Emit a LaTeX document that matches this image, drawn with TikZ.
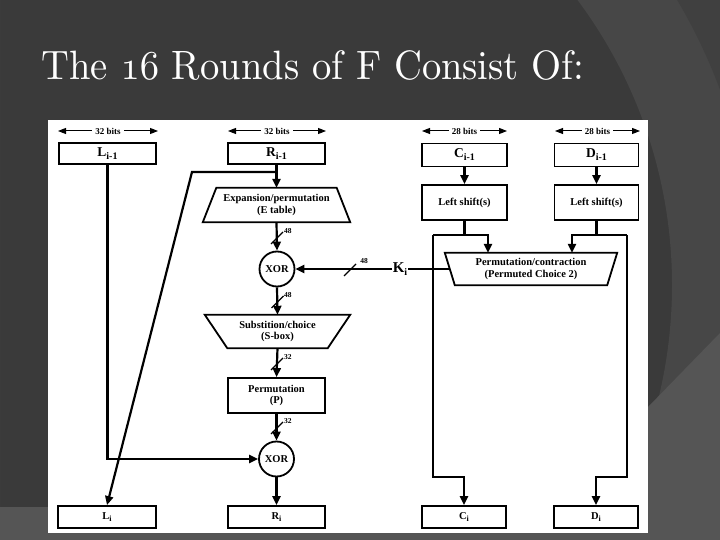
\documentclass[tikz,border=0pt]{standalone}
\usepackage{fontspec}
\newfontfamily\dfont{Liberation Serif}
\usetikzlibrary{arrows.meta,calc}
\definecolor{bgd}{HTML}{3A3A3A}
\definecolor{ring}{HTML}{474747}
\definecolor{corner}{HTML}{404040}
\definecolor{low}{HTML}{555555}
\newcommand\sbs[1]{\raisebox{-3pt}{\fontsize{10}{10}\selectfont #1}}
\newcommand\sbsm[1]{\raisebox{-2.5pt}{\fontsize{8}{8}\selectfont #1}}
\newcommand\slashat[1]{\draw[line width=1.4pt] ($(#1)+(-6,6)$) -- ($(#1)+(6,-6)$);}
\begin{document}
\begin{tikzpicture}[x=1pt,y=-1pt,
  ln/.style={line width=2.2pt},
  arr/.style={-{Triangle[length=9pt,width=8pt]}},
  dim/.style={line width=1pt,{Triangle[length=8pt,width=6pt]}-{Triangle[length=8pt,width=6pt]}},
  box/.style={draw, line width=1.8pt, fill=white, inner sep=0pt, align=center,
    font=\dfont\bfseries\fontsize{10.5}{11.5}\selectfont},
  big/.style={font=\dfont\bfseries\fontsize{13.5}{14}\selectfont},
  small/.style={font=\dfont\bfseries\fontsize{10.5}{11}\selectfont},
  ghost/.style={inner sep=0pt, align=center, font=\dfont\bfseries\fontsize{10.5}{11.5}\selectfont},
  xor/.style={draw, circle, line width=1.8pt, minimum size=35pt, inner sep=0pt, fill=white,
    font=\dfont\bfseries\fontsize{10.5}{11}\selectfont},
  num/.style={inner sep=0pt, font=\dfont\bfseries\fontsize{7.5}{8}\selectfont},
  bits/.style={fill=white, inner xsep=3pt, inner ysep=1pt, font=\dfont\bfseries\fontsize{9}{9}\selectfont}]
\useasboundingbox (0,0) rectangle (720,540);
% background
\fill[bgd] (0,0) rectangle (720,540);
\fill[ring, even odd rule] (0,0) rectangle (720,540) (195,285) circle (477pt);
\fill[corner, even odd rule] (0,0) rectangle (720,540) (195,285) circle (560pt);
\fill[low] (0,507) -- (60,507) -- (648,407) -- (720,333) -- (720,540) -- (0,540) -- cycle;
\node[anchor=base west, text=white, inner sep=0pt] (title) at (41,80)
  {\scalebox{3.86}[4.1]{\fontsize{10}{12}\selectfont The {\usefont{OML}{cmm}{m}{it}16} Rounds of F Consist Of:}};
% panel
\fill[white] (48,120) rectangle (648,533);

% width arrows
\coordinate (wl1) at (58,131);  \coordinate (wl2) at (158,131);
\coordinate (wr1) at (228,131); \coordinate (wr2) at (326,131);
\coordinate (wc1) at (422,131); \coordinate (wc2) at (507,131);
\coordinate (wd1) at (555,131); \coordinate (wd2) at (640,131);
\draw[dim] (wl1) -- (wl2) node[bits, midway] (bl) {32 bits};
\draw[dim] (wr1) -- (wr2) node[bits, midway] (br) {32 bits};
\draw[dim] (wc1) -- (wc2) node[bits, midway] (bc) {28 bits};
\draw[dim] (wd1) -- (wd2) node[bits, midway] (bd) {28 bits};

% top boxes
\node[box, big, minimum width=97pt, minimum height=21pt] (Li1) at (107.5,153.5) {L\sbs{i-1}};
\node[box, big, minimum width=97pt, minimum height=21pt] (Ri1) at (276.5,153.5) {R\sbs{i-1}};
\node[box, big, minimum width=85pt, minimum height=23pt] (Ci1) at (464.5,155) {C\sbs{i-1}};
\node[box, big, minimum width=84pt, minimum height=23pt] (Di1) at (596.5,155) {D\sbs{i-1}};
\node[box, minimum width=85pt, minimum height=35pt] (LSC) at (464.5,202.5) {Left shift(s)};
\node[box, minimum width=84pt, minimum height=35pt] (LSD) at (596.5,202.5) {Left shift(s)};

% trapezoids
\node[ghost, minimum width=147pt, minimum height=34pt] (E) at (276.5,205) {};
\filldraw[fill=white, line width=1.8pt] ($(E.north west)+(13.5,0)$) -- ($(E.north east)+(-13.5,0)$)
  -- (E.south east) -- (E.south west) -- cycle;
\node[ghost] at (E) {Expansion/permutation\\(E table)};

\node[ghost, minimum width=145pt, minimum height=33pt] (S) at (277.5,331.5) {};
\filldraw[fill=white, line width=1.8pt] (S.north west) -- (S.north east)
  -- ($(S.south east)+(-22.5,0)$) -- ($(S.south west)+(22.5,0)$) -- cycle;
\node[ghost] at (S) {Substition/choice\\(S-box)};

\node[ghost, minimum width=172pt, minimum height=32pt] (PC) at (531,269) {};
\filldraw[fill=white, line width=1.8pt] (PC.north west) -- (PC.north east)
  -- ($(PC.south east)+(-10,0)$) -- ($(PC.south west)+(10,0)$) -- cycle;
\node[ghost] at (PC) {Permutation/contraction\\(Permuted Choice 2)};

\node[box, minimum width=97pt, minimum height=35pt] (P) at (276.5,395.5) {Permutation\\(P)};

\node[xor] (X1) at (277,269) {XOR};
\node[xor] (X2) at (276.5,459) {XOR};
\node[inner sep=1pt, font=\dfont\bfseries\fontsize{15}{16}\selectfont] (Ki) at (400,269) {K\sbs{i}};

% bottom boxes
\node[box, small, minimum width=98pt, minimum height=22pt] (Li) at (107,517) {L\sbsm{i}};
\node[box, small, minimum width=97pt, minimum height=22pt] (Ri) at (276.5,517) {R\sbsm{i}};
\node[box, small, minimum width=84pt, minimum height=22pt] (Ci) at (464,517) {C\sbsm{i}};
\node[box, small, minimum width=84pt, minimum height=22pt] (Di) at (596,517) {D\sbsm{i}};

% right-half connectors
\draw[ln, arr] (Ri1.south) -- (E.north);
\coordinate (brR) at (276.5,172);
\coordinate (brL) at (192,172);
\draw[ln, arr] (brR) -- (brL) -- (Li.north);
\draw[ln, arr] (E.south) -- (X1.north);
\slashat{277,238}
\node[num, anchor=west] (n1) at (284,231) {48};
\draw[ln, arr] (Ki.west) -- (X1.east);
\slashat{350,270}
\node[num] (n2) at (364,261) {48};
\draw[ln] (Ki.east) -- ($(PC.west)+(5,0)$);
\draw[ln, arr] (X1.south) -- (S.north);
\slashat{277.5,302}
\node[num, anchor=west] (n3) at (284,295) {48};
\draw[ln, arr] (S.south) -- (P.north);
\slashat{277,364}
\node[num, anchor=west] (n4) at (284,357) {32};
\draw[ln, arr] (P.south) -- (X2.north);
\slashat{277,428}
\node[num, anchor=west] (n5) at (284,421) {32};
\draw[ln, arr] (X2.south) -- (Ri.north);
\draw[ln, arr] (Li1.south) |- (X2.west);

% key schedule connectors
\draw[ln, arr] (Ci1.south) -- (LSC.north);
\draw[ln, arr] (Di1.south) -- (LSD.north);
\coordinate (cJ) at (464.5,235);
\coordinate (cL) at (433,235);
\coordinate (cR) at (488,235);
\coordinate (cB) at (433,477);
\coordinate (dJ) at (596.5,235);
\coordinate (dL) at (572,235);
\coordinate (dR) at (627,235);
\coordinate (dB) at (627,477);
\draw[ln] (LSC.south) -- (cJ);
\draw[ln] (LSD.south) -- (dJ);
\draw[ln, arr] (cL) -- (cR) -- (cR |- PC.north);
\draw[ln, arr] (dR) -- (dL) -- (dL |- PC.north);
\draw[ln, arr] (cL) -- (cB) -| (Ci.north);
\draw[ln, arr] (dR) -- (dB) -| (Di.north);
\end{tikzpicture}
\end{document}
